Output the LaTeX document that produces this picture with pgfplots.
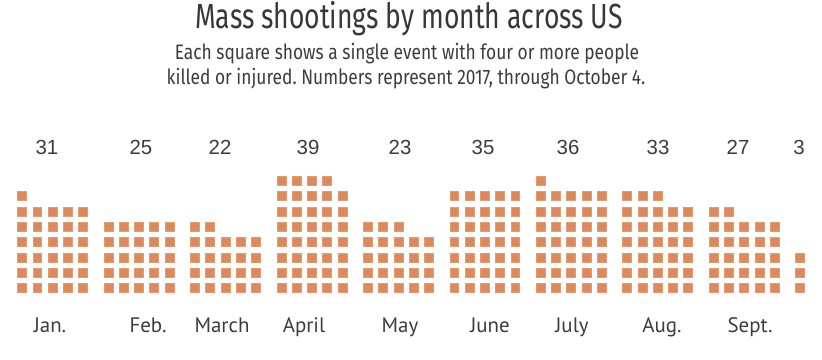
\documentclass[border=0pt]{standalone}
\usepackage{pgfplots}
\pgfplotsset{compat=1.18}
\usepackage{fontspec}
\setmainfont{Liberation Sans}
\newfontfamily\titlefont{Fira Sans}[FakeStretch=0.76]
\newfontfamily\subfont{Fira Sans}[FakeStretch=0.83]
\newfontfamily\monthfont{PT Sans}
\newfontfamily\numfont{Liberation Sans}
\definecolor{sq}{RGB}{222,137,92}
\definecolor{sqedge}{RGB}{229,155,114}
\definecolor{titlec}{RGB}{55,55,55}
\definecolor{subc}{RGB}{60,60,60}
\definecolor{numc}{RGB}{60,60,60}
\definecolor{monc}{RGB}{60,60,60}
\pgfplotsset{
  sqstyle/.style={only marks, mark=square*, mark size=4.5pt,
    mark options={fill=sq, draw=sqedge, line width=0.5pt},
    y filter/.expression={72+15.3*(y-1)}},
  month/.style={sqstyle, x filter/.expression={22+86.45*#1+15.25*x}},
}
\tikzset{
  num/.style={anchor=base, text=numc, font=\numfont\fontsize{20.5}{21}\selectfont, inner sep=0pt},
  mon/.style={anchor=base, text=monc, font=\monthfont\fontsize{21}{21}\selectfont, inner sep=0pt},
}
\begin{document}
\frenchspacing
\begin{tikzpicture}
\begin{axis}[name=ax, width=822bp, height=360bp, scale only axis, hide axis,
  xmin=0, xmax=822, ymin=0, ymax=360, clip=false]
% Jan. 31
\addplot[month=0] coordinates {
(0,1)(1,1)(2,1)(3,1)(4,1) (0,2)(1,2)(2,2)(3,2)(4,2) (0,3)(1,3)(2,3)(3,3)(4,3)
(0,4)(1,4)(2,4)(3,4)(4,4) (0,5)(1,5)(2,5)(3,5)(4,5) (0,6)(1,6)(2,6)(3,6)(4,6)
(0,7)};
% Feb. 25
\addplot[month=1] coordinates {
(0,1)(1,1)(2,1)(3,1)(4,1) (0,2)(1,2)(2,2)(3,2)(4,2) (0,3)(1,3)(2,3)(3,3)(4,3)
(0,4)(1,4)(2,4)(3,4)(4,4) (0,5)(1,5)(2,5)(3,5)(4,5)};
% March 22
\addplot[month=2] coordinates {
(0,1)(1,1)(2,1)(3,1)(4,1) (0,2)(1,2)(2,2)(3,2)(4,2) (0,3)(1,3)(2,3)(3,3)(4,3)
(0,4)(1,4)(2,4)(3,4)(4,4) (0,5)(1,5)};
% April 39
\addplot[month=3] coordinates {
(0,1)(1,1)(2,1)(3,1)(4,1) (0,2)(1,2)(2,2)(3,2)(4,2) (0,3)(1,3)(2,3)(3,3)(4,3)
(0,4)(1,4)(2,4)(3,4)(4,4) (0,5)(1,5)(2,5)(3,5)(4,5) (0,6)(1,6)(2,6)(3,6)(4,6)
(0,7)(1,7)(2,7)(3,7)(4,7) (0,8)(1,8)(2,8)(3,8)};
% May 23
\addplot[month=4] coordinates {
(0,1)(1,1)(2,1)(3,1)(4,1) (0,2)(1,2)(2,2)(3,2)(4,2) (0,3)(1,3)(2,3)(3,3)(4,3)
(0,4)(1,4)(2,4)(3,4)(4,4) (0,5)(1,5)(2,5)};
% June 35
\addplot[month=5] coordinates {
(0,1)(1,1)(2,1)(3,1)(4,1) (0,2)(1,2)(2,2)(3,2)(4,2) (0,3)(1,3)(2,3)(3,3)(4,3)
(0,4)(1,4)(2,4)(3,4)(4,4) (0,5)(1,5)(2,5)(3,5)(4,5) (0,6)(1,6)(2,6)(3,6)(4,6)
(0,7)(1,7)(2,7)(3,7)(4,7)};
% July 36
\addplot[month=6] coordinates {
(0,1)(1,1)(2,1)(3,1)(4,1) (0,2)(1,2)(2,2)(3,2)(4,2) (0,3)(1,3)(2,3)(3,3)(4,3)
(0,4)(1,4)(2,4)(3,4)(4,4) (0,5)(1,5)(2,5)(3,5)(4,5) (0,6)(1,6)(2,6)(3,6)(4,6)
(0,7)(1,7)(2,7)(3,7)(4,7) (0,8)};
% Aug. 33
\addplot[month=7] coordinates {
(0,1)(1,1)(2,1)(3,1)(4,1) (0,2)(1,2)(2,2)(3,2)(4,2) (0,3)(1,3)(2,3)(3,3)(4,3)
(0,4)(1,4)(2,4)(3,4)(4,4) (0,5)(1,5)(2,5)(3,5)(4,5) (0,6)(1,6)(2,6)(3,6)(4,6)
(0,7)(1,7)(2,7)};
% Sept. 27
\addplot[month=8] coordinates {
(0,1)(1,1)(2,1)(3,1)(4,1) (0,2)(1,2)(2,2)(3,2)(4,2) (0,3)(1,3)(2,3)(3,3)(4,3)
(0,4)(1,4)(2,4)(3,4)(4,4) (0,5)(1,5)(2,5)(3,5)(4,5) (0,6)(1,6)};
% Oct. 3
\addplot[month=9] coordinates {(0,1)(0,2)(0,3)};

% Title and subtitle
\node[anchor=base, text=titlec, font=\titlefont\fontsize{35}{35}\selectfont, inner sep=0pt]
  at (axis cs:409,331) {Mass shootings by month across US};
\node[anchor=base, text=subc, font=\subfont\fontsize{21}{21}\selectfont, inner sep=0pt]
  at (axis cs:407,300) {Each square shows a single event with four or more people};
\node[anchor=base, text=subc, font=\subfont\fontsize{21}{21}\selectfont, inner sep=0pt]
  at (axis cs:406,275) {killed or injured. Numbers represent 2017, through October 4.};

% Counts
\node[num] at (axis cs:47,205) {31};
\node[num] at (axis cs:141,205) {25};
\node[num] at (axis cs:220,205) {22};
\node[num] at (axis cs:308,205) {39};
\node[num] at (axis cs:400,205) {23};
\node[num] at (axis cs:483,205) {35};
\node[num] at (axis cs:568,205) {36};
\node[num] at (axis cs:658,205) {33};
\node[num] at (axis cs:738,205) {27};
\node[num] at (axis cs:799,205) {3};
% Month names
\node[mon] at (axis cs:50,27) {Jan.};
\node[mon] at (axis cs:148,27) {Feb.};
\node[mon] at (axis cs:222,27) {March};
\node[mon] at (axis cs:304,27) {April};
\node[mon] at (axis cs:400,27) {May};
\node[mon] at (axis cs:490,27) {June};
\node[mon] at (axis cs:572,27) {July};
\node[mon] at (axis cs:662,27) {Aug.};
\node[mon] at (axis cs:750,27) {Sept.};
\end{axis}
\pgfresetboundingbox
\path[use as bounding box] (ax.south west) rectangle (ax.north east);
\end{tikzpicture}
\end{document}
